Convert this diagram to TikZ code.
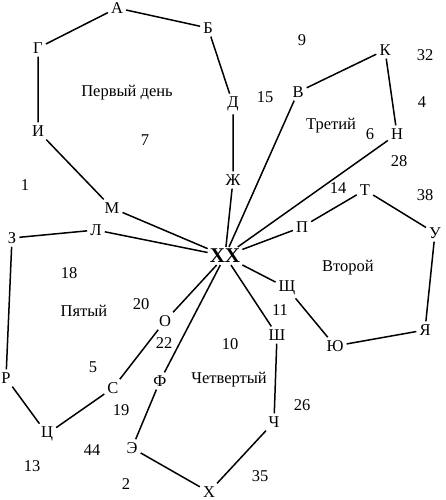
\documentclass[tikz,border=0pt]{standalone}
\usepackage{fontspec}
\setmainfont{Liberation Serif}
\begin{document}
\begin{tikzpicture}[
    x=1pt, y=-1pt,
    pt/.style={inner sep=3pt, font=\fontsize{16.5}{18}\selectfont},
    hub/.style={inner sep=2pt, font=\fontsize{21}{23}\selectfont\bfseries},
    lbl/.style={inner sep=0pt, font=\fontsize{16.5}{18}\selectfont},
    road/.style={line width=1.5pt}
]
    \useasboundingbox (0,0) rectangle (445,500);

    % Centre
    \node[hub] (xx) at (225,256) {XX};

    % First day
    \node[pt] (a) at (117,8) {А};
    \node[pt] (b) at (208,28) {Б};
    \node[pt] (d) at (233,104) {Д};
    \node[pt] (zh) at (233,180) {Ж};
    \node[pt] (g) at (38,48) {Г};
    \node[pt] (i) at (38,131) {И};
    \node[pt] (m) at (112,208) {М};

    % Third day
    \node[pt] (v) at (298,92) {В};
    \node[pt] (k) at (385,50) {К};
    \node[pt] (n) at (397,134) {Н};

    % Second day
    \node[pt] (p) at (302,227) {П};
    \node[pt] (t) at (365,190) {Т};
    \node[pt] (u) at (435,233) {У};
    \node[pt] (ya) at (425,330) {Я};
    \node[pt] (yu) at (335,346) {Ю};
    \node[pt] (shch) at (287,288) {Щ};

    % Fourth day
    \node[pt] (sh) at (277,335) {Ш};
    \node[pt] (ch) at (274,422) {Ч};
    \node[pt] (kh) at (209,492) {Х};
    \node[pt] (e) at (132,448) {Э};
    \node[pt] (f) at (160,381) {Ф};

    % Fifth day
    \node[pt] (o) at (165,321) {О};
    \node[pt] (s) at (113,388) {С};
    \node[pt] (ts) at (47,434) {Ц};
    \node[pt] (r) at (6,378) {Р};
    \node[pt] (z) at (12,238) {З};
    \node[pt] (l) at (96,230) {Л};

    % Day names
    \node[lbl] (day1) at (127,93) {Первый день};
    \node[lbl] (day2) at (348,268) {Второй};
    \node[lbl] (day3) at (331,126) {Третий};
    \node[lbl] (day4) at (229,380) {Четвертый};
    \node[lbl] (day5) at (84,311) {Пятый};

    % Numbers
    \node[lbl] (n7) at (145,140) {7};
    \node[lbl] (n1) at (25,185) {1};
    \node[lbl] (n9) at (302,40) {9};
    \node[lbl] (n15) at (265,97) {15};
    \node[lbl] (n6) at (370,134) {6};
    \node[lbl] (n32) at (425,55) {32};
    \node[lbl] (n4) at (422,102) {4};
    \node[lbl] (n28) at (399,161) {28};
    \node[lbl] (n14) at (338,188) {14};
    \node[lbl] (n38) at (425,195) {38};
    \node[lbl] (n11) at (280,310) {11};
    \node[lbl] (n10) at (230,344) {10};
    \node[lbl] (n26) at (302,405) {26};
    \node[lbl] (n35) at (260,476) {35};
    \node[lbl] (n18) at (69,273) {18};
    \node[lbl] (n20) at (141,304) {20};
    \node[lbl] (n22) at (164,343) {22};
    \node[lbl] (n5) at (93,367) {5};
    \node[lbl] (n19) at (121,410) {19};
    \node[lbl] (n44) at (92,450) {44};
    \node[lbl] (n13) at (32,466) {13};
    \node[lbl] (n2) at (126,484) {2};

    % Roads
    \draw[road] (xx) -- (zh) -- (d) -- (b) -- (a) -- (g) -- (i) -- (m) -- (xx);
    \draw[road] (xx) -- (v) -- (k) -- (n) -- (xx);
    \draw[road] (xx) -- (p) -- (t) -- (u) -- (ya) -- (yu) -- (shch) -- (xx);
    \draw[road] (xx) -- (sh) -- (ch) -- (kh) -- (e) -- (f) -- (xx);
    \draw[road] (xx) -- (o) -- (s) -- (ts) -- (r) -- (z) -- (l) -- (xx);

\end{tikzpicture}
\end{document}
